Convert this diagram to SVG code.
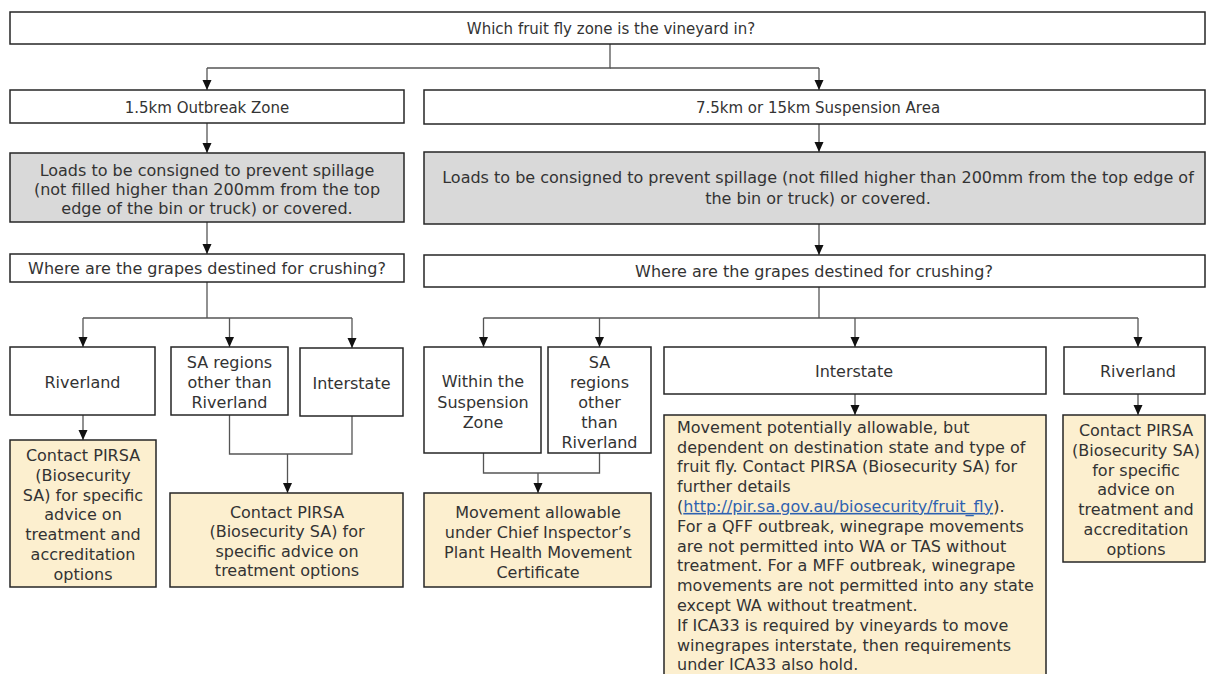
<svg xmlns="http://www.w3.org/2000/svg" width="1208" height="674" viewBox="0 0 1208 674">
<style>
.box{fill:#ffffff;stroke:#262626;stroke-width:1.5}
.grey{fill:#d9d9d9;stroke:#262626;stroke-width:1.5}
.yel{fill:#fcefcf;stroke:#262626;stroke-width:1.5}
.t{font-family:"DejaVu Sans","Liberation Sans",sans-serif;font-size:16px;fill:#333333;text-anchor:middle}
.h{font-family:"DejaVu Sans","Liberation Sans",sans-serif;font-size:15px;fill:#333333;text-anchor:middle}
.l{font-family:"DejaVu Sans","Liberation Sans",sans-serif;font-size:16px;fill:#333333;text-anchor:start}
.link{fill:#2f62b0;text-decoration:underline}
.c{fill:none;stroke:#555555;stroke-width:1.3}
.a{fill:none;stroke:#555555;stroke-width:1.3;marker-end:url(#arr)}
</style>
<defs>
<marker id="arr" markerUnits="userSpaceOnUse" markerWidth="10" markerHeight="10" refX="10" refY="5" orient="auto" viewBox="0 0 10 10">
<path d="M0,0.5 L10,5 L0,9.5 z" fill="#111111"/>
</marker>
</defs>

<g id="connectors">
<path class="c" d="M610,44 V68 H207"/>
<path class="a" d="M207,68 V90"/>
<path class="c" d="M610,68 H819"/>
<path class="a" d="M819,68 V90"/>
<path class="a" d="M207,123 V153"/>
<path class="a" d="M819,124 V152"/>
<path class="a" d="M207,222 V254"/>
<path class="a" d="M819,224 V255"/>
<path class="c" d="M207,282 V318"/>
<path class="c" d="M83,318 H352"/>
<path class="a" d="M83,318 V347"/>
<path class="a" d="M229.5,318 V347"/>
<path class="a" d="M352,318 V348"/>
<path class="a" d="M83,415 V440"/>
<path class="c" d="M229.5,415 V454 H352 V416"/>
<path class="a" d="M287.5,454 V493"/>
<path class="c" d="M819,287 V318"/>
<path class="c" d="M483.5,318 H1138"/>
<path class="a" d="M483.5,318 V347"/>
<path class="a" d="M599.5,318 V347"/>
<path class="a" d="M855,318 V347"/>
<path class="a" d="M1138,318 V347"/>
<path class="a" d="M855,394 V415"/>
<path class="a" d="M1138,394 V415"/>
<path class="c" d="M483.5,453 V473 H599.5 V453"/>
<path class="a" d="M538,473 V493"/>
</g>

<g id="n-zone-question">
<rect class="box" x="10" y="12" width="1195" height="32"/>
<text class="h" x="611" y="33.5">Which fruit fly zone is the vineyard in?</text>
</g>

<g id="n-outbreak">
<rect class="box" x="10" y="90" width="394" height="33"/>
<text class="h" x="207" y="112.5">1.5km Outbreak Zone</text>
</g>

<g id="n-suspension">
<rect class="box" x="424" y="90" width="781" height="34"/>
<text class="h" x="818" y="112.5">7.5km or 15km Suspension Area</text>
</g>

<g id="n-loads-left">
<rect class="grey" x="10" y="153" width="394" height="69"/>
<text class="t" x="207" y="176">Loads to be consigned to prevent spillage</text>
<text class="t" x="207" y="195">(not filled higher than 200mm from the top</text>
<text class="t" x="207" y="214">edge of the bin or truck) or covered.</text>
</g>

<g id="n-loads-right">
<rect class="grey" x="424" y="152" width="781" height="72"/>
<text class="t" x="818" y="183">Loads to be consigned to prevent spillage (not filled higher than 200mm from the top edge of</text>
<text class="t" x="818" y="204">the bin or truck) or covered.</text>
</g>

<g id="n-where-left">
<rect class="box" x="10" y="254" width="394" height="28"/>
<text class="t" x="207" y="274">Where are the grapes destined for crushing?</text>
</g>

<g id="n-where-right">
<rect class="box" x="424" y="255" width="781" height="32"/>
<text class="t" x="814" y="277">Where are the grapes destined for crushing?</text>
</g>

<g id="n-riverland-left">
<rect class="box" x="10" y="347" width="145" height="68"/>
<text class="t" x="82.5" y="387.5">Riverland</text>
</g>

<g id="n-sa-left">
<rect class="box" x="171" y="347" width="117" height="68"/>
<text class="t" x="229.5" y="367.5">SA regions</text>
<text class="t" x="229.5" y="387.5">other than</text>
<text class="t" x="229.5" y="407.5">Riverland</text>
</g>

<g id="n-interstate-left">
<rect class="box" x="300" y="348" width="103" height="68"/>
<text class="t" x="351.5" y="389">Interstate</text>
</g>

<g id="n-contact-left">
<rect class="yel" x="10" y="440" width="146" height="147"/>
<text class="t" x="83" y="461">Contact PIRSA</text>
<text class="t" x="83" y="480.8">(Biosecurity</text>
<text class="t" x="83" y="500.6">SA) for specific</text>
<text class="t" x="83" y="520.4">advice on</text>
<text class="t" x="83" y="540.2">treatment and</text>
<text class="t" x="83" y="560">accreditation</text>
<text class="t" x="83" y="579.8">options</text>
</g>

<g id="n-contact-mid">
<rect class="yel" x="170" y="493" width="233" height="94"/>
<text class="t" x="287" y="517.7">Contact PIRSA</text>
<text class="t" x="287" y="537.2">(Biosecurity SA) for</text>
<text class="t" x="287" y="556.7">specific advice on</text>
<text class="t" x="287" y="576.2">treatment options</text>
</g>

<g id="n-within">
<rect class="box" x="424" y="347" width="117" height="106"/>
<text class="t" x="483" y="387">Within the</text>
<text class="t" x="483" y="407.5">Suspension</text>
<text class="t" x="483" y="427.5">Zone</text>
</g>

<g id="n-sa-right">
<rect class="box" x="548" y="347" width="103" height="106"/>
<text class="t" x="599.5" y="367.7">SA</text>
<text class="t" x="599.5" y="387.7">regions</text>
<text class="t" x="599.5" y="407.7">other</text>
<text class="t" x="599.5" y="427.7">than</text>
<text class="t" x="599.5" y="447.7">Riverland</text>
</g>

<g id="n-movement">
<rect class="yel" x="424" y="493" width="227" height="94"/>
<text class="t" x="538" y="517.7">Movement allowable</text>
<text class="t" x="538" y="537.7">under Chief Inspector’s</text>
<text class="t" x="538" y="557.7">Plant Health Movement</text>
<text class="t" x="538" y="577.7">Certificate</text>
</g>

<g id="n-interstate-right">
<rect class="box" x="664" y="347" width="382" height="47"/>
<text class="t" x="854" y="376.7">Interstate</text>
</g>

<g id="n-riverland-right">
<rect class="box" x="1064" y="347" width="141" height="47"/>
<text class="t" x="1138" y="376.7">Riverland</text>
</g>

<g id="n-interstate-detail">
<rect class="yel" x="664" y="415" width="382" height="270"/>
<text class="l" x="677" y="432.7">Movement potentially allowable, but</text>
<text class="l" x="677" y="452.5">dependent on destination state and type of</text>
<text class="l" x="677" y="472.3">fruit fly. Contact PIRSA (Biosecurity SA) for</text>
<text class="l" x="677" y="492.1">further details</text>
<text class="l" x="677" y="511.9">(<tspan class="link">http://pir.sa.gov.au/biosecurity/fruit_fly</tspan>).</text>
<text class="l" x="677" y="531.7">For a QFF outbreak, winegrape movements</text>
<text class="l" x="677" y="551.5">are not permitted into WA or TAS without</text>
<text class="l" x="677" y="571.3">treatment. For a MFF outbreak, winegrape</text>
<text class="l" x="677" y="591.1">movements are not permitted into any state</text>
<text class="l" x="677" y="610.9">except WA without treatment.</text>
<text class="l" x="677" y="630.7">If ICA33 is required by vineyards to move</text>
<text class="l" x="677" y="650.5">winegrapes interstate, then requirements</text>
<text class="l" x="677" y="670.3">under ICA33 also hold.</text>
</g>

<g id="n-contact-right">
<rect class="yel" x="1063" y="415" width="142" height="147"/>
<text class="t" x="1136" y="436">Contact PIRSA</text>
<text class="t" x="1136" y="455.8">(Biosecurity SA)</text>
<text class="t" x="1136" y="475.6">for specific</text>
<text class="t" x="1136" y="495.4">advice on</text>
<text class="t" x="1136" y="515.2">treatment and</text>
<text class="t" x="1136" y="535">accreditation</text>
<text class="t" x="1136" y="554.8">options</text>
</g>
</svg>
